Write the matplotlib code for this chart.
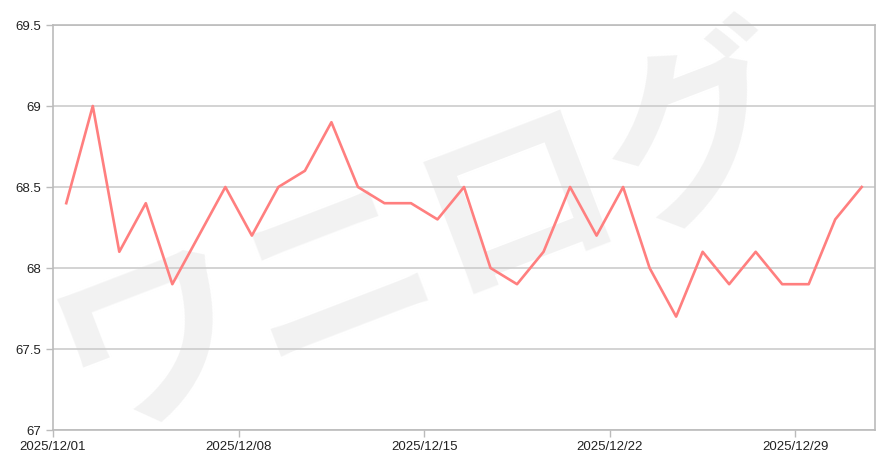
import matplotlib.pyplot as plt
import numpy as np

plt.rcParams['font.family'] = ['Liberation Sans', 'DejaVu Sans']

# daily values, 2025/12/01 .. 2025/12/31
days = list(range(1, 32))
values = [68.4, 69.0, 68.1, 68.4, 67.9, 68.2, 68.5, 68.2, 68.5, 68.6,
          68.9, 68.5, 68.4, 68.4, 68.3, 68.5, 68.0, 67.9, 68.1, 68.5,
          68.2, 68.5, 68.0, 67.7, 68.1, 67.9, 68.1, 67.9, 67.9, 68.3,
          68.5]
tick_days = [1, 8, 15, 22, 29]
tick_labels = ['2025/12/%02d' % d for d in tick_days]
y_ticks = [67, 67.5, 68, 68.5, 69, 69.5]
y_labels = ['67', '67.5', '68', '68.5', '69', '69.5']

fig = plt.figure(figsize=(8.85, 4.69), dpi=100)
ax = fig.add_axes([53 / 885, 1 - 430 / 469, 822 / 885, 405 / 469])

# watermark behind everything
fig.text(0.485, 0.49, 'ワニログ', family=['Noto Sans CJK JP'], fontweight='bold',
         fontsize=140, color='#f2f2f2', rotation=21, ha='center', va='center',
         zorder=-1)
ax.set_facecolor('none')

x = np.array(days) - 0.5
ax.plot(x, values, color='#ff7f7f', lw=1.9, zorder=3)

ax.set_xlim(0, 31)
ax.set_ylim(67, 69.5)
ax.set_xticks([d - 1 for d in tick_days])
ax.set_xticklabels(tick_labels, fontsize=9.5)
ax.set_yticks(y_ticks)
ax.set_yticklabels(y_labels, fontsize=9.5)
ax.grid(axis='y', color='#cccccc', lw=1.2)
ax.tick_params(colors='#bbbbbb', labelcolor='#222222', length=5, width=1)
ax.tick_params(axis='x', pad=3)
for sp in ax.spines.values():
    sp.set_color('#bbbbbb')
    sp.set_linewidth(1.2)

fig.savefig('out.png', dpi=100)
